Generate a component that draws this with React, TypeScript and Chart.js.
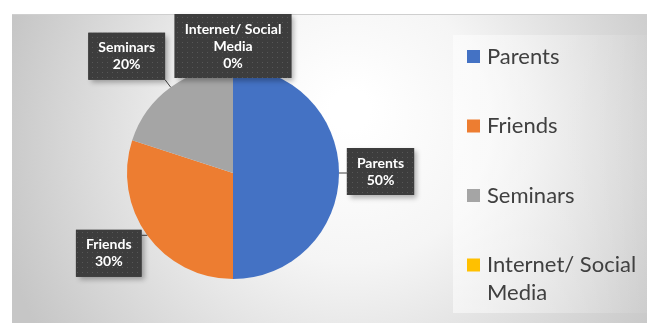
import React, { useEffect, useRef } from "react";
import { Chart, registerables } from "chart.js";

Chart.register(...registerables);

const categories = ["Parents", "Friends", "Seminars", "Internet/ Social Media"];
const values = [50, 30, 20, 0];
const labelLines = [["Parents"], ["Friends"], ["Seminars"], ["Internet/ Social", "Media"]];
const legendLines = [["Parents"], ["Friends"], ["Seminars"], ["Internet/ Social", "Media"]];
const colors = ["#4472C4", "#ED7D31", "#A5A5A5", "#FFC000"];

// label box offsets from the arc's outer mid-point (placement only)
const labelOffsets = [
  { dx: 41.5, dy: -1.5 },
  { dx: -38.5, dy: 18 },
  { dx: -44, dy: -31 },
  { dx: 0, dy: -21 },
];

function makeDotPattern(ctx: CanvasRenderingContext2D) {
  const c = document.createElement("canvas");
  c.width = 5;
  c.height = 5;
  const p = c.getContext("2d")!;
  p.fillStyle = "#3d3d3d";
  p.fillRect(0, 0, 5, 5);
  p.fillStyle = "#575757";
  p.fillRect(2, 2, 1, 1);
  return ctx.createPattern(c, "repeat")!;
}

const backgroundPlugin = {
  id: "bgPlugin",
  beforeDraw(chart: any) {
    const ctx: CanvasRenderingContext2D = chart.ctx;
    const W = chart.width;
    const H = chart.height;
    ctx.save();
    ctx.fillStyle = "#ffffff";
    ctx.fillRect(0, 0, W, H);
    const g = ctx.createRadialGradient(350, 110, 20, 350, 150, 360);
    g.addColorStop(0, "#ffffff");
    g.addColorStop(0.35, "#f5f5f5");
    g.addColorStop(1, "#c6c6c6");
    ctx.fillStyle = g;
    ctx.fillRect(12, 14, W - 12, H - 14);
    ctx.fillStyle = "#cfcfcf";
    ctx.fillRect(12, 14, W - 12, 1);
    // legend panel
    const lg = ctx.createLinearGradient(453, 0, W, 0);
    lg.addColorStop(0, "rgba(255,255,255,0.55)");
    lg.addColorStop(1, "rgba(255,255,255,0.05)");
    ctx.fillStyle = lg;
    ctx.fillRect(453, 35, W - 453, 278);
    ctx.restore();
  },
};

const labelPlugin = {
  id: "boxLabels",
  afterDatasetsDraw(chart: any) {
    const ctx: CanvasRenderingContext2D = chart.ctx;
    const meta = chart.getDatasetMeta(0);
    const data: number[] = chart.data.datasets[0].data;
    const total = data.reduce((a, b) => a + b, 0);
    const pattern = makeDotPattern(ctx);
    ctx.save();
    ctx.font = "bold 14px Lato";
    const lineH = 17;
    meta.data.forEach((arc: any, i: number) => {
      const { x, y, startAngle, endAngle, outerRadius } = arc.getProps(
        ["x", "y", "startAngle", "endAngle", "outerRadius"],
        true
      );
      const mid = (startAngle + endAngle) / 2;
      const ax = x + Math.cos(mid) * outerRadius;
      const ay = y + Math.sin(mid) * outerRadius;
      const pct = Math.round((data[i] / total) * 100) + "%";
      const lines = [...labelLines[i], pct];
      const tw = Math.max(...lines.map((l) => ctx.measureText(l).width));
      const bw = tw + 20;
      const bh = lines.length * lineH + 13;
      const cx = ax + labelOffsets[i].dx;
      const cy = ay + labelOffsets[i].dy;
      const bx = cx - bw / 2;
      const by = cy - bh / 2;
      // leader line
      const nx = Math.max(bx, Math.min(ax, bx + bw));
      const ny = Math.max(by, Math.min(ay, by + bh));
      ctx.strokeStyle = "#404040";
      ctx.lineWidth = 1;
      ctx.beginPath();
      ctx.moveTo(ax, ay);
      ctx.lineTo(nx, ny);
      ctx.stroke();
      // box with shadow
      ctx.save();
      ctx.shadowColor = "rgba(0,0,0,0.3)";
      ctx.shadowBlur = 5;
      ctx.shadowOffsetX = 3;
      ctx.shadowOffsetY = 3;
      ctx.fillStyle = "#3d3d3d";
      ctx.fillRect(bx, by, bw, bh);
      ctx.restore();
      ctx.fillStyle = pattern;
      ctx.fillRect(bx, by, bw, bh);
      ctx.fillStyle = "#ffffff";
      ctx.textAlign = "center";
      ctx.textBaseline = "middle";
      const startY = cy - ((lines.length - 1) * lineH) / 2;
      lines.forEach((l, k) => ctx.fillText(l, cx, startY + k * lineH));
    });
    ctx.restore();
  },
};

const legendPlugin = {
  id: "sideLegend",
  afterDraw(chart: any) {
    const ctx: CanvasRenderingContext2D = chart.ctx;
    const bg: string[] = chart.data.datasets[0].backgroundColor;
    ctx.save();
    ctx.font = "22px Lato";
    ctx.textBaseline = "middle";
    ctx.textAlign = "left";
    const x0 = 467;
    const y0 = 56.5;
    const step = 69.5;
    legendLines.forEach((lines, i) => {
      const yc = y0 + i * step;
      ctx.fillStyle = bg[i];
      ctx.fillRect(x0, yc - 6.5, 13, 13);
      ctx.fillStyle = "#404040";
      lines.forEach((l, k) => ctx.fillText(l, x0 + 20, yc + k * 28));
    });
    ctx.restore();
  },
};

export default function App() {
  const ref = useRef<HTMLCanvasElement>(null);
  useEffect(() => {
    document.body.style.margin = "0";
    const chart = new Chart(ref.current!, {
      type: "pie",
      data: {
        labels: categories,
        datasets: [
          {
            data: values,
            backgroundColor: colors,
            borderWidth: 0,
          },
        ],
      },
      options: {
        animation: false,
        responsive: true,
        maintainAspectRatio: false,
        layout: { padding: { left: 127, right: 308, top: 67, bottom: 44 } },
        plugins: {
          legend: { display: false },
          tooltip: { enabled: false },
        },
      },
      plugins: [backgroundPlugin, labelPlugin, legendPlugin],
    });
    return () => chart.destroy();
  }, []);
  return (
    <div style={{ width: 647, height: 323, position: "relative" }}>
      <canvas ref={ref} />
    </div>
  );
}
